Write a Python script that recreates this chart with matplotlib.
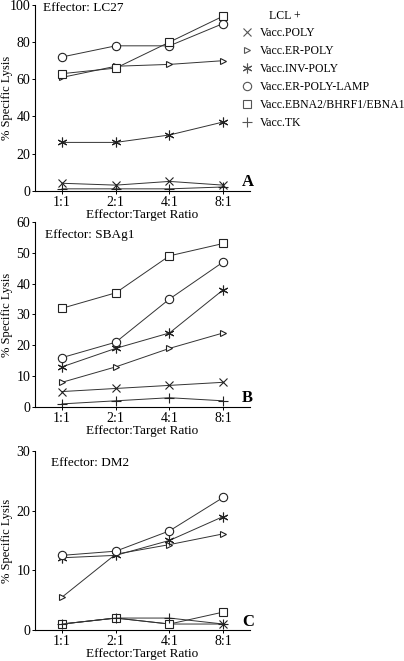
import numpy as np
import matplotlib.pyplot as plt
from matplotlib.lines import Line2D

plt.rcParams['font.family'] = ['Liberation Serif', 'DejaVu Serif']

ratios = ['1:1', '2:1', '4:1', '8:1']
series = ['Vacc.POLY', 'Vacc.ER-POLY', 'Vacc.INV-POLY', 'Vacc.ER-POLY-LAMP',
          'Vacc.EBNA2/BHRF1/EBNA1', 'Vacc.TK']

# panel A, effector LC27
lc27_poly = [4, 3, 5, 3]
lc27_er_poly = [61, 67, 68, 70]
lc27_inv_poly = [26, 26, 30, 37]
lc27_lamp = [72, 78, 78, 90]
lc27_ebna = [63, 66, 80, 94]
lc27_tk = [1, 1, 1, 2]

# panel B, effector SBAg1
sbag1_poly = [5, 6, 7, 8]
sbag1_er_poly = [8, 13, 19, 24]
sbag1_inv_poly = [13, 19, 24, 38]
sbag1_lamp = [16, 21, 35, 47]
sbag1_ebna = [32, 37, 49, 53]
sbag1_tk = [1, 2, 3, 2]

# panel C, effector DM2
dm2_poly = [1, 2, 1, 1]
dm2_er_poly = [5.5, 12.7, 14.3, 16.1]
dm2_inv_poly = [12.1, 12.5, 15, 19]
dm2_lamp = [12.5, 13.2, 16.6, 22.2]
dm2_ebna = [1, 2, 1, 3]
dm2_tk = [1, 2, 2, 1]

markers = ['x', '>', (6, 2, 0), 'o', 's', '+']
msizes = [5.5, 5, 7, 6, 6, 7]

panels = [
    ('Effector: LC27', 'A', [lc27_poly, lc27_er_poly, lc27_inv_poly, lc27_lamp, lc27_ebna, lc27_tk],
     100, np.arange(0, 101, 20)),
    ('Effector: SBAg1', 'B', [sbag1_poly, sbag1_er_poly, sbag1_inv_poly, sbag1_lamp, sbag1_ebna, sbag1_tk],
     60, np.arange(0, 61, 10)),
    ('Effector: DM2', 'C', [dm2_poly, dm2_er_poly, dm2_inv_poly, dm2_lamp, dm2_ebna, dm2_tk],
     30, np.arange(0, 31, 10)),
]

fig = plt.figure(figsize=(4.04, 6.61), dpi=100)
boxes = [[0.087, 0.7115, 0.532, 0.281],
         [0.087, 0.3843, 0.532, 0.280],
         [0.087, 0.0469, 0.532, 0.271]]
eff_pos = [(0.037, 0.985), (0.047, 0.93), (0.074, 0.933)]

x = np.arange(len(ratios))
for (title, letter, data, ymax, yt), box, ep in zip(panels, boxes, eff_pos):
    ax = fig.add_axes(box)
    for vals, m, ms in zip(data, markers, msizes):
        ax.plot(x, vals, color='#333333', lw=0.7, marker=m, ms=ms,
                mfc='white', mec='#222222', mew=0.8)
    ax.set_xlim(-0.5, 3.5)
    ax.set_ylim(0, ymax)
    ax.set_yticks(yt)
    ax.set_xticks(x)
    ax.set_xticklabels(ratios)
    ax.spines['top'].set_visible(False)
    ax.spines['right'].set_visible(False)
    ax.tick_params(labelsize=10, length=2, width=0.7, pad=1.5)
    ax.set_xlabel('Effector:Target Ratio', fontsize=9.5, labelpad=0)
    ax.set_ylabel('% Specific Lysis', fontsize=9)
    ax.yaxis.set_label_coords(-0.102, 0.5)
    ax.text(ep[0], ep[1], title, transform=ax.transAxes, fontsize=9.5, va='center')
    ax.text(0.963, 0.047, letter, transform=ax.transAxes, fontsize=12,
            fontweight='bold', va='center')

handles = [Line2D([], [], ls='none', marker=m, ms=ms, mfc='white',
                  mec='#555555', mew=0.8) for m, ms in zip(markers, msizes)]
fig.text(0.665, 0.985, 'LCL +', fontsize=8.5, va='top')
fig.legend(handles, series, loc='upper left', bbox_to_anchor=(0.573, 0.971),
           frameon=False, fontsize=8.5, handlelength=1.2, handletextpad=0.5,
           labelspacing=0.5, borderpad=0.2)

fig.savefig('out.png', dpi=100)
